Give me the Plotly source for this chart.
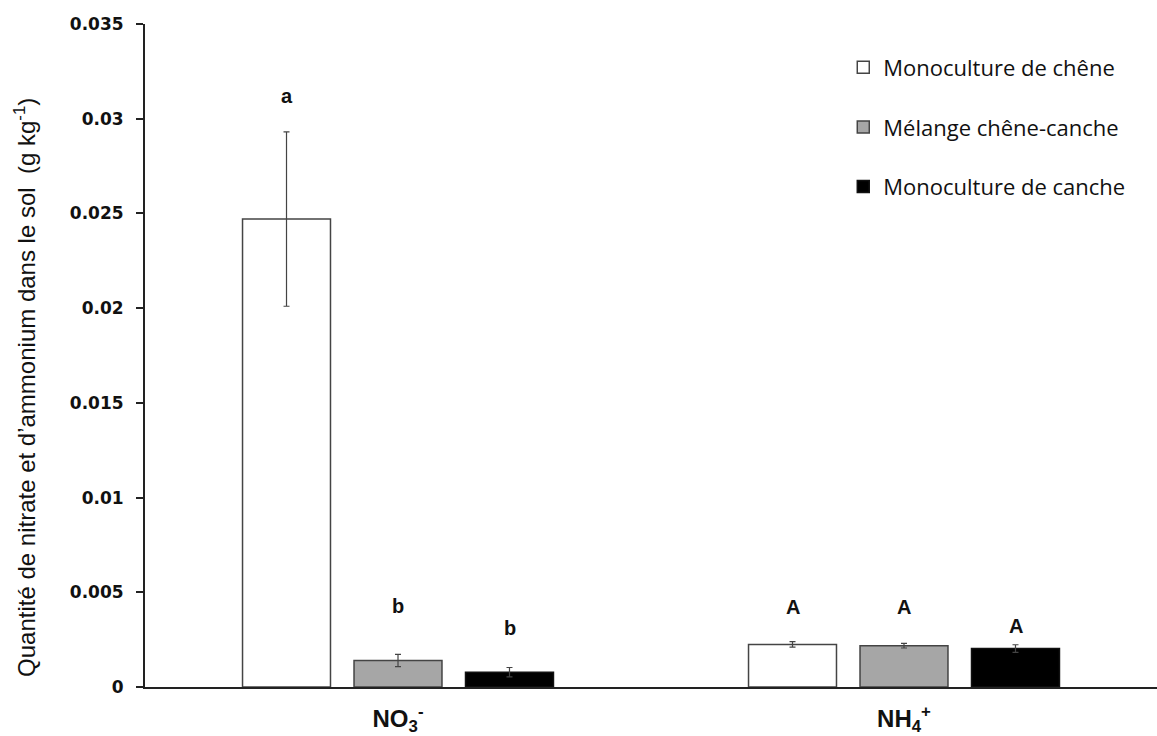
import plotly.graph_objects as go

categories = ["NO<sub>3</sub><sup>-</sup>", "NH<sub>4</sub><sup>+</sup>"]
series_names = ["Monoculture de chêne", "Mélange chêne-canche", "Monoculture de canche"]
values = [
    [0.0247, 0.00225],
    [0.00140, 0.00218],
    [0.00078, 0.00203],
]
errors = [
    [0.0046, 0.00015],
    [0.00032, 0.00012],
    [0.00025, 0.00020],
]
letters = [["a", "A"], ["b", "A"], ["b", "A"]]
letter_y = [[0.0312, 0.00422], [0.00428, 0.00422], [0.00312, 0.00322]]
yticks = [0, 0.005, 0.01, 0.015, 0.02, 0.025, 0.03, 0.035]
ytick_labels = ["0", "0.005", "0.01", "0.015", "0.02", "0.025", "0.03", "0.035"]
y_title = "Quantité de nitrate et d’ammonium dans le sol  (g kg<sup>-1</sup>)"

fills = ["#ffffff", "#a6a6a6", "#000000"]
outlines = ["#444444", "#444444", "#111111"]
shifts = [-111.5, 0, 111.5]

fig = go.Figure()
for i, name in enumerate(series_names):
    fig.add_trace(go.Bar(
        x=categories, y=values[i], name=name,
        legendgroup=name,
        marker=dict(color=fills[i], line=dict(color=outlines[i], width=1.5)),
        error_y=dict(type="data", array=errors[i], visible=True,
                     color="#444444", thickness=1.2, width=3),
    ))
    for j, cat in enumerate(categories):
        fig.add_annotation(x=cat, y=letter_y[i][j], text="<b>%s</b>" % letters[i][j],
                           xref="x", yref="y", xshift=shifts[i], showarrow=False,
                           font=dict(family="Liberation Sans, Arial, sans-serif", size=20, color="#111"))

fig.add_annotation(x=-0.1186, y=0.4525, xref="paper", yref="paper", text=y_title,
                   textangle=-90, showarrow=False, xanchor="center", yanchor="middle",
                   font=dict(family="Liberation Sans, Arial, sans-serif", size=24, color="#111"))

fig.update_layout(
    width=1157, height=736,
    margin=dict(l=145, r=0, t=24, b=49, autoexpand=False),
    paper_bgcolor="white", plot_bgcolor="white",
    barmode="group", bargap=0.339, bargroupgap=0.211,
    showlegend=True,
    legend=dict(x=0.69, y=0.966, xanchor="left", yanchor="top",
                font=dict(family="Open Sans, sans-serif", size=22, color="#111"),
                tracegroupgap=28, bgcolor="rgba(0,0,0,0)"),
    xaxis=dict(showline=True, linecolor="#222", linewidth=2,
               ticks="outside", ticklen=9, tickcolor="rgba(0,0,0,0)",
               tickfont=dict(family="Liberation Sans, Arial, sans-serif", size=24, color="#111"),
               tickvals=categories, ticktext=["<b>NO<sub>3</sub><sup>-</sup></b>", "<b>NH<sub>4</sub><sup>+</sup></b>"]),
    yaxis=dict(range=[0, 0.035], tickvals=yticks, ticktext=["<b>%s</b>" % t for t in ytick_labels],
               showline=True, linecolor="#222", linewidth=2, ticks="outside", ticklen=7,
               tickcolor="#222", tickwidth=2, showgrid=False, zeroline=False,
               ticklabelstandoff=9,
               tickfont=dict(family="DejaVu Sans, Verdana, sans-serif", size=17, color="#111")),
)

fig.write_html("out.html", config={"displayModeBar": False},
               post_script="document.body.style.margin='0';")
